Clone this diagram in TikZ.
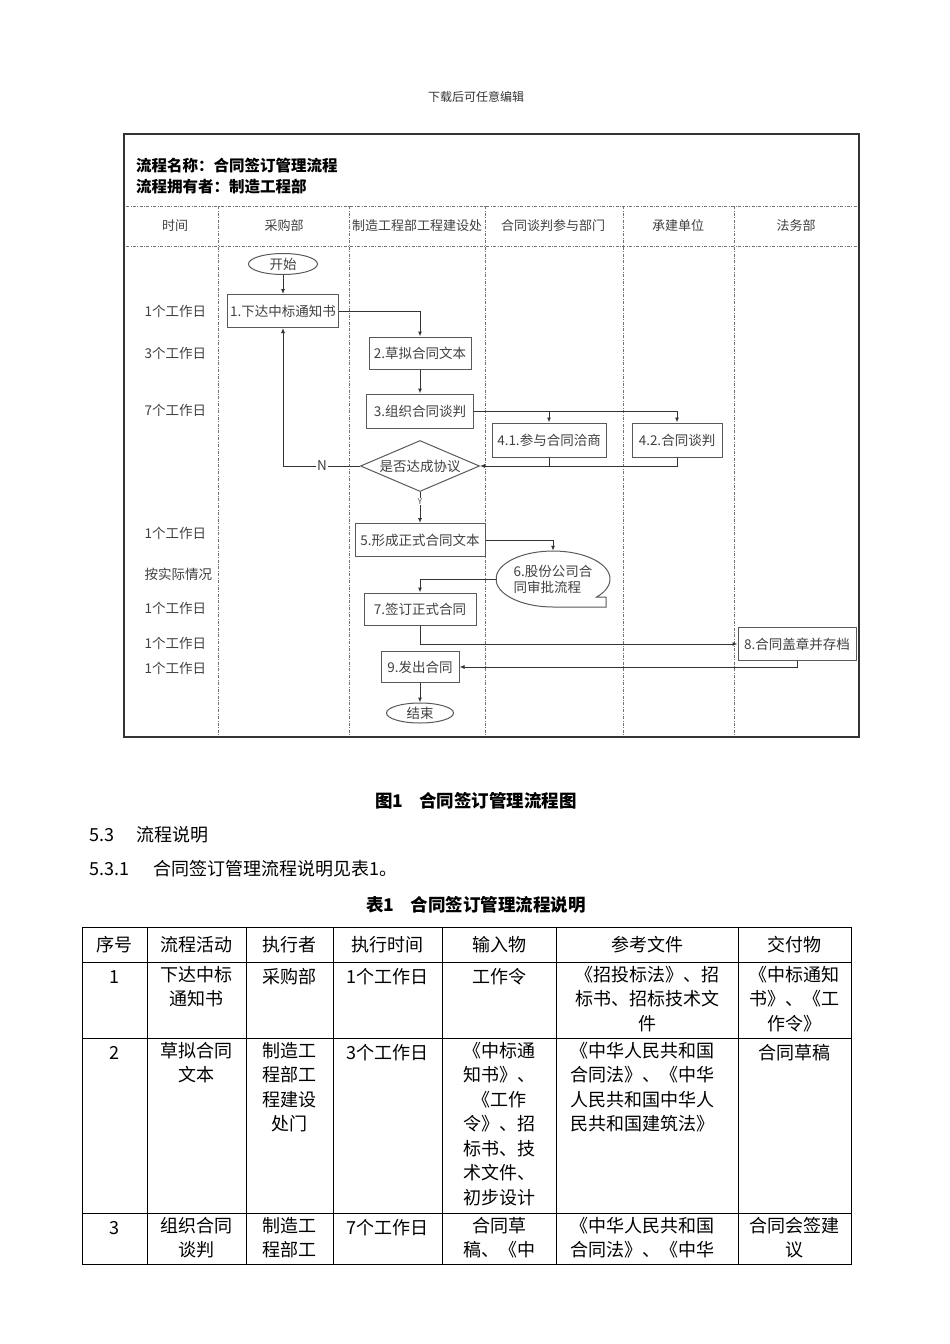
\documentclass[tikz,border=0pt]{standalone}
\usepackage{fontspec}
\setmainfont{Noto Sans CJK SC}
\usetikzlibrary{arrows.meta,shapes.geometric}

\begin{document}
\begin{tikzpicture}
    [x=1pt, y=-1pt,
     >={Latex[length=5pt,width=4pt]},
     FlowText/.style={text=black!75, font=\fontsize{13.5}{16}\selectfont},
     StepBox/.style={rectangle, draw=black!65, line width=1pt, FlowText, inner sep=1pt},
     TermNode/.style={ellipse, draw=black!65, line width=1pt, FlowText, inner sep=0pt},
     CheckNode/.style={diamond, draw=black!65, line width=1pt, FlowText, aspect=2.3, inner sep=0pt},
     TimeText/.style={FlowText, anchor=west},
     LaneText/.style={FlowText, font=\fontsize{13}{15}\selectfont},
     LaneLine/.style={black!55, line width=0.6pt, dash pattern=on 3pt off 1.5pt on 0.8pt off 1.5pt},
     Link/.style={black!80, line width=1pt},
     BodyText/.style={anchor=west, inner sep=0pt, font=\fontsize{18}{22}\selectfont},
     CaptionText/.style={inner sep=0pt, font=\bfseries\fontsize{17.5}{20}\selectfont},
     Cell/.style={anchor=north, align=center, inner sep=0pt, font=\fontsize{18}{24.5}\selectfont, execute at begin node=\strut},
     Grid/.style={black, line width=0.8pt}]
    \useasboundingbox (0,0) rectangle (950,1344);
    \node[inner sep=0pt, font=\fontsize{12}{14}\selectfont, text=black!80] (dl) at (476,97){下载后可任意编辑};

    \draw[line width=2.4pt, black!80] (124,134) rectangle (859,737);
    \node[anchor=west, inner sep=0pt, font=\bfseries\fontsize{15.5}{18}\selectfont] (pname) at (136,166){流程名称：合同签订管理流程};
    \node[anchor=west, inner sep=0pt, font=\bfseries\fontsize{15.5}{18}\selectfont] (powner) at (136,187){流程拥有者：制造工程部};
    \foreach \y in {206,246}
        \draw[LaneLine] (126,\y) -- (857,\y);
    \foreach \x in {218,349,485,623,734}
        \draw[LaneLine] (\x,206) -- (\x,735);
    \node[LaneText] (h0) at (175,226){时间};
    \node[LaneText] (h1) at (284,226){采购部};
    \node[LaneText] (h2) at (417,226){制造工程部工程建设处};
    \node[LaneText] (h3) at (553,226){合同谈判参与部门};
    \node[LaneText] (h4) at (678,226){承建单位};
    \node[LaneText] (h5) at (796,226){法务部};

    \node[TimeText] (t1) at (141,311){1个工作日};
    \node[TimeText] (t2) at (141,353){3个工作日};
    \node[TimeText] (t3) at (141,410){7个工作日};
    \node[TimeText] (t4) at (141,533){1个工作日};
    \node[TimeText] (t5) at (141,574){按实际情况};
    \node[TimeText] (t6) at (141,608){1个工作日};
    \node[TimeText] (t7) at (141,643){1个工作日};
    \node[TimeText] (t8) at (141,668){1个工作日};

    \node[TermNode, minimum width=69pt, minimum height=21pt] (nstart) at (283,264){开始};
    \node[StepBox, minimum width=111pt, minimum height=33pt] (b1) at (283,311){1.下达中标通知书};
    \node[StepBox, minimum width=102pt, minimum height=32pt] (b2) at (420,353){2.草拟合同文本};
    \node[StepBox, minimum width=107pt, minimum height=34pt] (b3) at (420,411){3.组织合同谈判};
    \node[StepBox, minimum width=114pt, minimum height=34pt] (b41) at (549,440){4.1.参与合同洽商};
    \node[StepBox, minimum width=90pt, minimum height=34pt] (b42) at (677,440){4.2.合同谈判};
    \node[CheckNode, minimum width=119pt, minimum height=51pt] (dec) at (420,466){是否达成协议};
    \node[FlowText, inner sep=1pt] (nlab) at (322,466){N};
    \node[StepBox, minimum width=130pt, minimum height=33pt] (b5) at (420,540){5.形成正式合同文本};
    \node[ellipse, minimum width=114pt, minimum height=56pt, FlowText, align=left, inner sep=0pt] (n6) at (553,579){6.股份公司合\\同审批流程};
    \draw[black!65, line width=1pt] ([shift={(43.7,18)}]n6.center)
        arc[start angle=-40, end angle=270, x radius=57pt, y radius=28pt]
        -- ([shift={(53,28)}]n6.center) -- ([shift={(53,18)}]n6.center) -- cycle;
    \node[StepBox, minimum width=112pt, minimum height=32pt] (b7) at (420,609){7.签订正式合同};
    \node[StepBox, minimum width=118pt, minimum height=33pt] (b8) at (797,644){8.合同盖章并存档};
    \node[StepBox, minimum width=78pt, minimum height=31pt] (b9) at (420,667){9.发出合同};
    \node[TermNode, minimum width=67pt, minimum height=20pt] (nstop) at (420,713){结束};

    \draw[Link, ->] (nstart) -- (b1);
    \draw[Link, ->] (b1.east) -| (b2.north);
    \draw[Link, ->] (b2) -- (b3);
    \draw[Link, ->] (b3.east) -| (b42.north);
    \draw[Link, ->] (b41.north |- b3.east) -- (b41.north);
    \draw[Link] (b41.south) -- (b41.south |- dec.east);
    \draw[Link, ->] (b42.south) |- (dec.east);
    \draw[Link] (dec.west) -- (nlab.east);
    \draw[Link, ->] (nlab.west) -| (b1.south);
    \draw[Link, ->] (dec.south) -- node[pos=0.3, fill=white, inner sep=0.5pt, text=black!75, font=\fontsize{8}{9}\selectfont] (ylab){Y} (b5.north);
    \draw[Link, ->] (b5.east) -| (n6.north);
    \draw[Link, ->] (n6.west) -| (b7.north);
    \draw[Link, ->] (b7.south) |- (b8.west);
    \draw[Link, ->] (b8.south) |- (b9.east);
    \draw[Link, ->] (b9) -- (nstop);

    \node[CaptionText] (fig) at (476,801){图1\hspace{16pt}合同签订管理流程图};
    \node[BodyText] (s53) at (89,835){5.3\hspace{22pt}流程说明};
    \node[BodyText] (s531) at (89,869){5.3.1\hspace{24pt}合同签订管理流程说明见表1。};
    \node[CaptionText] (tab) at (476,905){表1\hspace{16pt}合同签订管理流程说明};

    \draw[Grid] (82,927) rectangle (851,1264);
    \foreach \y in {962,1038,1213}
        \draw[Grid] (82,\y) -- (851,\y);
    \foreach \x in {147,246,333,442,556,738}
        \draw[Grid] (\x,927) -- (\x,1264);

    \node[Cell] (c01) at (114.5,934){序号};
    \node[Cell] (c02) at (196.5,934){流程活动};
    \node[Cell] (c03) at (289.5,934){执行者};
    \node[Cell] (c04) at (387.5,934){执行时间};
    \node[Cell] (c05) at (499,934){输入物};
    \node[Cell] (c06) at (647,934){参考文件};
    \node[Cell] (c07) at (794.5,934){交付物};

    \node[Cell] (c11) at (114.5,966){1};
    \node[Cell] (c12) at (196.5,966){下达中标\\通知书};
    \node[Cell] (c13) at (289.5,966){采购部};
    \node[Cell] (c14) at (387.5,966){1个工作日};
    \node[Cell] (c15) at (499,966){工作令};
    \node[Cell] (c16) at (647,966){《招投标法》、招\\标书、招标技术文\\件};
    \node[Cell] (c17) at (794.5,966){《中标通知\\书》、《工\\作令》};

    \node[Cell] (c21) at (114.5,1042){2};
    \node[Cell] (c22) at (196.5,1042){草拟合同\\文本};
    \node[Cell] (c23) at (289.5,1042){制造工\\程部工\\程建设\\处门};
    \node[Cell] (c24) at (387.5,1042){3个工作日};
    \node[Cell] (c25) at (499,1042){《中标通\\知书》、\\《工作\\令》、招\\标书、技\\术文件、\\初步设计};
    \node[Cell, anchor=north west, align=left] (c26) at (570,1042){《中华人民共和国\\合同法》、《中华\\人民共和国中华人\\民共和国建筑法》};
    \node[Cell] (c27) at (794.5,1042){合同草稿};

    \node[Cell] (c31) at (114.5,1217){3};
    \node[Cell] (c32) at (196.5,1217){组织合同\\谈判};
    \node[Cell] (c33) at (289.5,1217){制造工\\程部工};
    \node[Cell] (c34) at (387.5,1217){7个工作日};
    \node[Cell] (c35) at (499,1217){合同草\\稿、《中};
    \node[Cell, anchor=north west, align=left] (c36) at (570,1217){《中华人民共和国\\合同法》、《中华};
    \node[Cell] (c37) at (794.5,1217){合同会签建\\议};
    \end{tikzpicture}
\end{document}
